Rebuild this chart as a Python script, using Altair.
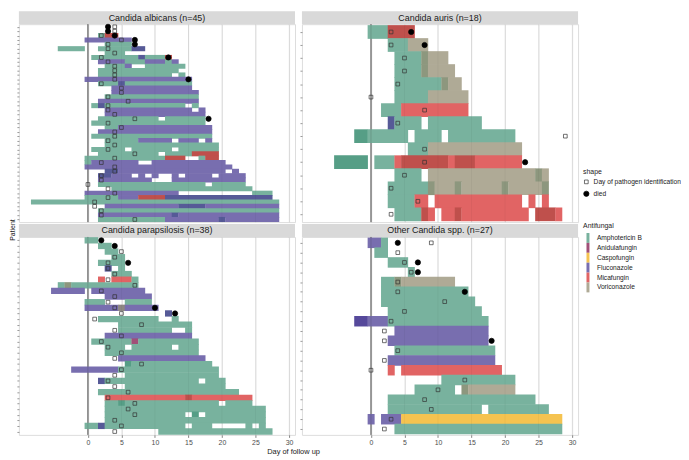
import re
import altair as alt
import pandas as pd

FONT = "Liberation Sans"
W, H = 279, 200
STRIP = 13
XDOM = [-10.3, 30.9]
XBREAKS = [0, 5, 10, 15, 20, 25, 30]
ALPHA = 0.75

DRUGS = ["Amphotericin B", "Anidulafungin", "Caspofungin", "Fluconazole", "Micafungin", "Voriconazole"]
DRUG_CODES = ["A", "N", "C", "F", "M", "V"]
DRUG_COLORS = ["#4b987e", "#80154b", "#f2af15", "#4b3d94", "#d73030", "#948e73"]
EVENTS = ["Day of pathogen identification", "died"]

PANEL_TITLES = ["Candida albicans (n=45)", "Candida auris (n=18)",
                "Candida parapsilosis (n=38)", "Other Candida spp. (n=27)"]

# treatment days per patient: code:first-last (days inclusive)
ALB_SPANS = [
    "", "", "A:2-4 M:3-4", "F:0-6", "A:3-6", "A:-4--1 A:2-8 F:7-8", "A:3-5",
    "A:1-12 F:8 M:12", "F:2-5 A:6-8 F:9-11 A:12 F:13", "A:3-5 F:6 A:9-14",
    "A:2-13", "A:2-12 A:14", "F:0-15", "A:2-15 F:5", "F:4-15", "F:4-16",
    "A:3-16", "F:2-16", "A:1-14 A:16 F:2", "F:3-15 F:17", "F:3-17",
    "A:2-10 A:12-17", "A:1-17", "A:3-4 F:5-18", "F:2-18", "A:1-18",
    "A:3-7 F:8-12 F:14-16 F:18", "A:3-19", "A:1-5 A:7-12 A:14-19",
    "A:2-10 A:12-19 M:16-19", "A:0-14 A:17-19 M:12-14 M:18-19",
    "A:0 F:1-7 F:10-20", "F:0-21", "A:3-4 F:3-20 F:22",
    "A:2-3 F:2-6 F:8 F:10 F:13 F:15-18 F:20-23", "F:2-9 F:13-23",
    "A:2-17 A:19-23", "A:4-24", "F:0-13 A:25-27",
    "A:0-4 F:5-7 A:8-27 M:8-11 F:12-27", "A:-8-28", "A:14-17 F:3-28",
    "A:2-28", "A:13 F:2-28", "A:2-11 A:20 F:12-28",
]
ALB_ID = [4, 4, 2, 5, 3, 3, 4, 2, 3, 4, 4, 4, 4, 2, 5, 5, 3, 6, 3, 3, 4, 7, 3,
          5, 4, 4, 3, 4, 3, 7, 4, 2, 4, 4, 2, 2, 0, 3, 4, 3, 1, 1, 2, 2, 7]
ALB_DIED = [3, 3, 4, 7, 7, None, None, 12, None, None, None, None, 15, None,
            None, None, None, None, None, None, None, 18] + [None] * 23

AUR_SPANS = [
    "A:0-6 M:3-6", "A:3-5 V:6-8", "A:4-8 V:8-11", "A:4-8 V:8-12",
    "A:4-11 V:11-13", "A:4-8 V:9-14", "A:2-4 M:5-14", "A:3-7 A:9-16 F:3",
    "A:-2-5 A:-2--1 A:7-10 A:12-21", "A:6-8 V:9-22",
    "A:-5--1 A:-5--1 A:1-3 A:5-11 A:13-15 M:4-22", "A:4-7 A:25 V:9-26",
    "A:3-9 A:13 A:20 A:26 V:9-26", "A:3-6 M:7-8 M:10-22 M:24 M:26",
    "A:4-8 A:13 A:25-27 M:8-9 M:11-23 M:25-28",
]
AUR_ID = [3, 3, 5, 5, 4, 0, 8, 4, 29, 8, 8, 5, 3, 7, 3]
AUR_DIED = [6, 8, None, None, None, None, None, None, None, None, 23, None, None, None, None]

PARA_SPANS = [
    "A:0-1", "A:2-3", "A:3-4", "A:4-5", "A:2-5", "A:3 A:5 F:3", "A:4-6",
    "A:7 M:2 M:4-6", "A:-4-7 V:-3", "F:-5--1 F:1-8", "F:3-9", "A:0-2 A:6-9",
    "F:0-10 V:5", "A:12 F:12", "A:2-10 A:13", "A:5-15", "A:5-12 A:15",
    "F:3-15", "A:1-6 A:8-16 N:7", "A:3-5 A:7-12 A:14-16", "A:3-16", "F:5-17",
    "A:6-18 A:6", "A:5-19 F:-2-4", "A:6-19", "A:2-16 A:18-20 F:2", "A:6-20",
    "A:2-22", "A:15 M:3-24", "A:3-19 A:21-24 A:5", "A:3-26",
    "A:3-14 A:16 A:16 A:18-26", "A:3-26", "A:0-14 A:16-18 A:24 A:26 F:2",
    "A:11-27",
]
PARA_ID = [None, None, 5, 4, 3, 3, 4, 3, 7, 2, 4, 3, 4, 5, 1, 8, 4, 5, 2, 3,
           5, 4, 8, 5, 4, 3, 4, 6, 3, 7, 6, 7, 4, 5, 4]
PARA_DIED = [2, 4, None, None, 6, None, None, None, None, None, None, None, 10, 13] + [None] * 21

OTH_SPANS = [
    "A:2 F:0-1", "A:1-2", "A:3-5", "A:6", "A:2-4 V:4-12", "A:2-14", "A:2-15",
    "A:3-16", "A:3-17 F:-2-2 F:-2--1", "F:4-17", "F:3-17", "A:4-18", "F:3-18",
    "M:3 M:5-19", "A:11-21", "A:7-12 A:14 V:14-21", "A:3-24",
    "A:3-16 A:18-26", "F:0 F:2-4 C:5-28", "A:4-28",
]
OTH_ID = [9, 4, 5, 6, 4, 4, 11, 5, 3, 2, 2, 4, 2, 0, 14, 10, 8, 9, 3, 2]
OTH_DIED = [4, None, 7, 7, None, 14, None, None, None, None, 18] + [None] * 9

SPAN_RE = re.compile(r"^(-?\d+)(?:-(-?\d+))?$")


def rgb(h):
    return [int(h[i:i + 2], 16) for i in (1, 3, 5)]


def blend(stack):
    c = [255.0, 255.0, 255.0]
    for d in stack:
        b = rgb(DRUG_COLORS[DRUGS.index(d)])
        c = [ALPHA * b[i] + (1 - ALPHA) * c[i] for i in range(3)]
    return "#%02x%02x%02x" % tuple(int(round(v)) for v in c)


ALL_SPANS = [ALB_SPANS, AUR_SPANS, PARA_SPANS, OTH_SPANS]


def parse_row(s):
    segs = []
    for tok in s.split():
        code, span = tok.split(":")
        m = SPAN_RE.match(span)
        a = int(m.group(1))
        b = int(m.group(2)) if m.group(2) else a
        k = DRUG_CODES.index(code)
        segs.append((k, a, b))
    # drawing order: Amphotericin B first, then the others
    segs.sort(key=lambda t: t[0])
    return segs


def row_runs(s):
    segs = parse_row(s)
    if not segs:
        return []
    lo = min(a for _, a, _ in segs)
    hi = max(b for _, _, b in segs)
    runs = []
    for d in range(lo, hi + 1):
        stack = tuple(DRUGS[k] for k, a, b in segs if a <= d <= b)
        if runs and runs[-1][0] == stack and runs[-1][2] == d - 1:
            runs[-1][2] = d
        else:
            runs.append([stack, d, d])
    return [r for r in runs if r[0]]


# colour domain: single drugs (legend) + overlaps seen in the data
shade_keys = list(DRUGS)
for spans in ALL_SPANS:
    for s in spans:
        for stack, _, _ in row_runs(s):
            key = " + ".join(stack)
            if key not in shade_keys:
                shade_keys.append(key)
shade_colors = [blend(k.split(" + ")) for k in shade_keys]


def bars_df(spans):
    recs = []
    for i, s in enumerate(spans):
        for stack, a, b in row_runs(s):
            recs.append({"row": i + 1, "shade": " + ".join(stack),
                         "x": a - 0.5, "x2": b + 0.5,
                         "y": i + 1 - 0.5, "y2": i + 1 + 0.5})
    return pd.DataFrame(recs)


def events(ids, died):
    recs = []
    for i, d in enumerate(ids):
        if d is not None:
            recs.append({"row": i + 1, "x": d, "event": EVENTS[0]})
    for i, d in enumerate(died):
        if d is not None:
            recs.append({"row": i + 1, "x": d, "event": EVENTS[1]})
    return pd.DataFrame(recs)


color_legend = alt.Legend(
    title="Antifungal", orient="none", legendX=570, legendY=200, values=DRUGS,
    symbolType="M-0.3,-1H0.3V1H-0.3Z", symbolSize=100, symbolOpacity=1,
    symbolStrokeWidth=0, rowPadding=0, labelOffset=4, titlePadding=4,
    labelFontSize=6.7, titleFontSize=7, titleFontWeight="normal",
    labelColor="#1a1a1a", titleColor="#1a1a1a")

shape_legend = alt.Legend(
    title="shape", orient="none", legendX=570, legendY=145,
    rowPadding=3, labelOffset=4, titlePadding=4, symbolStrokeWidth=0.7,
    labelFontSize=6.7, titleFontSize=7, titleFontWeight="normal",
    labelColor="#1a1a1a", titleColor="#1a1a1a", labelLimit=200)


def panel(title, spans, ids, died, bottom, left):
    n = len(spans)
    xs = alt.Scale(domain=XDOM, nice=False, zero=False)
    ys = alt.Scale(domain=[0.4, n + 0.6], nice=False, zero=False, reverse=True)
    xaxis = alt.Axis(values=XBREAKS, grid=True, gridColor="#d4d4d4", gridWidth=0.8,
                     domain=False, labels=bottom, ticks=bottom, tickSize=2.5,
                     tickColor="#333333", tickWidth=0.6, labelFontSize=7,
                     labelColor="#4d4d4d", labelPadding=1,
                     title="Day of follow up" if (bottom and left) else None,
                     titleFontSize=7.5, titleFontWeight="normal", titleColor="#1a1a1a",
                     titlePadding=2, titleX=W - 2, titleAlign="center")
    yaxis = alt.Axis(values=list(range(1, n + 1)), labels=False, ticks=True, tickSize=2,
                     tickColor="#333333", tickWidth=0.5, domain=False, grid=False,
                     title="Patient" if (left and not bottom) else None,
                     titleFontSize=7, titleFontWeight="normal", titleColor="#1a1a1a",
                     titlePadding=1, titleY=H + 7.5)

    seg = bars_df(spans)
    ev = events(ids, died)
    head = pd.DataFrame({"t": [title]})
    grid = pd.DataFrame({"g": XBREAKS[1:]})

    strip = alt.Chart(head).mark_rect(color="#d9d9d9").encode(
        x=alt.value(0), x2=alt.value(W), y=alt.value(-STRIP), y2=alt.value(0))
    strip_text = alt.Chart(head).mark_text(fontSize=9, color="#1a1a1a", font=FONT).encode(
        x=alt.value(W / 2), y=alt.value(-STRIP / 2), text="t:N")
    zero = alt.Chart(head).mark_rule(color="#333333", strokeWidth=0.8).encode(
        x=alt.XDatum(0, scale=xs, axis=xaxis))
    bars = alt.Chart(seg).mark_rect(opacity=1, yOffset=-0.35, y2Offset=0.35,
                                    x2Offset=0.3).encode(
        x=alt.X("x:Q", scale=xs, axis=xaxis), x2="x2:Q",
        y=alt.Y("y:Q", scale=ys, axis=yaxis), y2="y2:Q",
        color=alt.Color("shade:N", scale=alt.Scale(domain=shade_keys, range=shade_colors),
                        legend=color_legend))
    grid_over = alt.Chart(grid).mark_rule(color="#000000", strokeWidth=0.8, opacity=0.05).encode(
        x=alt.X("g:Q", scale=xs, axis=xaxis))
    zero_over = alt.Chart(head).mark_rule(color="#333333", strokeWidth=0.8, opacity=0.25).encode(
        x=alt.XDatum(0, scale=xs, axis=xaxis))
    pts = alt.Chart(ev).mark_point(opacity=1, strokeWidth=0.7).encode(
        x=alt.X("x:Q", scale=xs, axis=xaxis),
        y=alt.Y("row:Q", scale=ys, axis=yaxis),
        shape=alt.Shape("event:N", scale=alt.Scale(domain=EVENTS, range=["square", "circle"]),
                        legend=shape_legend),
        fill=alt.Fill("event:N", scale=alt.Scale(domain=EVENTS, range=["transparent", "#000000"]),
                      legend=shape_legend),
        stroke=alt.Stroke("event:N", scale=alt.Scale(domain=EVENTS, range=["#333333", "#000000"]),
                          legend=shape_legend),
        size=alt.Size("event:N", scale=alt.Scale(domain=EVENTS, range=[14, 28]),
                      legend=shape_legend))
    return alt.layer(strip, strip_text, zero, bars, grid_over, zero_over, pts).properties(
        width=W, height=H)


p1 = panel(PANEL_TITLES[0], ALB_SPANS, ALB_ID, ALB_DIED, False, True)
p2 = panel(PANEL_TITLES[1], AUR_SPANS, AUR_ID, AUR_DIED, False, False)
p3 = panel(PANEL_TITLES[2], PARA_SPANS, PARA_ID, PARA_DIED, True, True)
p4 = panel(PANEL_TITLES[3], OTH_SPANS, OTH_ID, OTH_DIED, True, False)

chart = alt.concat(p1, p2, p3, p4, columns=2, spacing={"row": 15, "column": 7},
                   bounds="flush").resolve_scale(
    x="independent", y="independent", color="shared", shape="shared",
    fill="shared", stroke="shared", size="shared"
).properties(
    padding={"left": 0, "top": 0, "right": 0, "bottom": 0}
).configure_view(stroke=None).configure(font=FONT)

chart.save("out.html", embed_options={"renderer": "svg", "actions": False})
